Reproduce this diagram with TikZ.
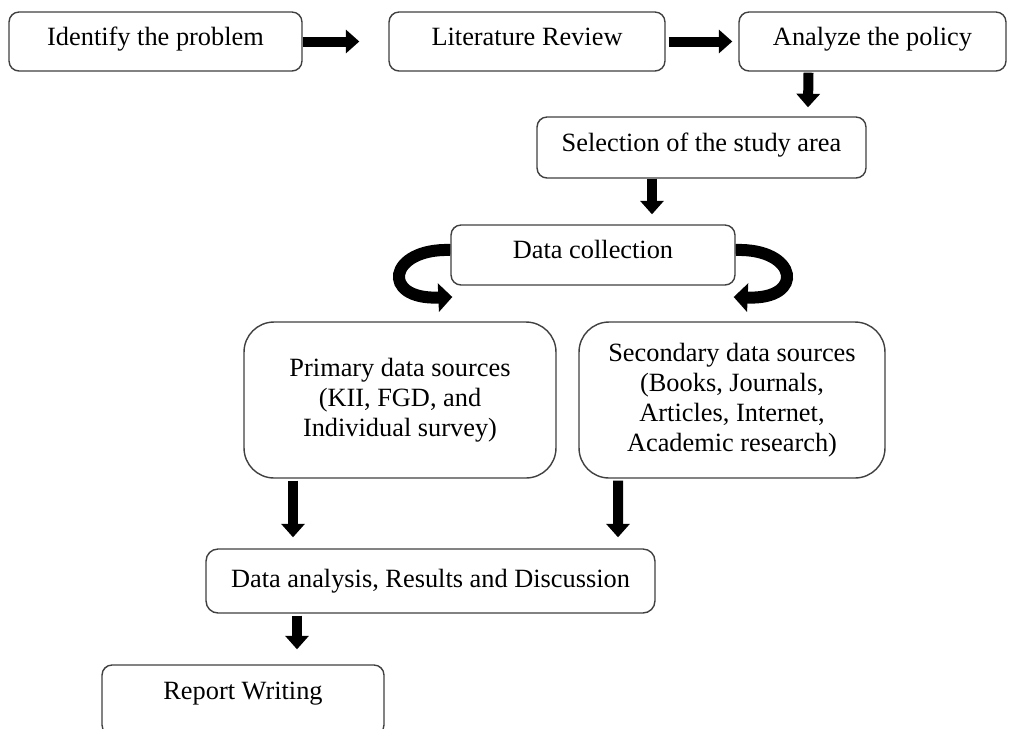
\documentclass[tikz,border=0pt]{standalone}
\usepackage{fontspec}
\setmainfont{Liberation Serif}
\usetikzlibrary{arrows.meta,calc}
\begin{document}
\begin{tikzpicture}[x=0.02cm,y=-0.02cm,
 box/.style={draw=black!75,line width=0.8pt,rounded corners=0.2cm,align=center,inner sep=0pt,fill=white,
   font=\fontsize{15}{17.2}\selectfont},
 onebox/.style={box,text height=10.5pt,text depth=6.5pt},
 bigbox/.style={box,rounded corners=0.6cm},
 barrow/.style={line width=0.2cm,-{Triangle[width=0.46cm,length=0.27cm]}},
 carrow/.style={line width=0.24cm,-{Triangle[width=0.56cm,length=0.28cm]}}]
\useasboundingbox (0,0) rectangle (1011,728);
\clip (0,0) rectangle (1011,728);
% boxes
\node[onebox,minimum width=5.86cm,minimum height=1.18cm] (id) at (155.5,41.5) {Identify the problem};
\node[onebox,minimum width=5.52cm,minimum height=1.18cm] (lit) at (527,41.5) {Literature Review};
\node[onebox,minimum width=5.34cm,minimum height=1.18cm] (an) at (872.5,41.5) {Analyze the policy};
\node[onebox,minimum width=6.58cm,minimum height=1.22cm] (sel) at (701.5,147.5) {Selection of the study area};
\node[onebox,minimum width=5.68cm,minimum height=1.2cm] (dc) at (593,255) {Data collection};
\node[bigbox,minimum width=6.24cm,minimum height=3.12cm] (pri) at (400,400) {Primary data sources\\(KII, FGD, and\\Individual survey)};
\node[bigbox,minimum width=6.12cm,minimum height=3.12cm] (sec) at (732,400) {Secondary data sources\\(Books, Journals,\\Articles, Internet,\\Academic research)};
\node[box,rounded corners=0.24cm,minimum width=8.98cm,minimum height=1.28cm] (da) at (430.5,581) {Data analysis, Results and Discussion};
\node[onebox,minimum width=5.64cm,minimum height=1.4cm] (rw) at (243,700) {\raisebox{0.08cm}{Report Writing}};
% straight arrows
\draw[barrow] (id.east) -- ($(lit.west)+(-29,0)$);
\draw[barrow] ($(lit.east)+(3,0)$) -- ($(an.west)+(-6,0)$);
\draw[barrow] ($(an.south)+(-64,1)$) -- ($(sel.north)+(106.5,-9)$);
\draw[barrow] ($(sel.south)+(-49.5,0)$) -- ($(dc.north)+(59,-10)$);
\draw[barrow] ($(pri.south)+(-107,2)$) -- ($(da.north)+(-137.5,-11)$);
\draw[barrow] ($(sec.south)+(-114,2)$) -- ($(da.north)+(187.5,-11)$);
\draw[barrow] ($(da.south)+(-133.5,2)$) -- ($(rw.north)+(54,-15)$);
% curved arrows
\draw[carrow] ($(dc.west)+(0,-5)$) .. controls (388,248) and (380,300) .. ($(dc.west)+(2,42)$);
\draw[carrow] ($(dc.east)+(0,-5)$) .. controls (798,248) and (806,300) .. ($(dc.east)+(-2,42)$);
\end{tikzpicture}
\end{document}
